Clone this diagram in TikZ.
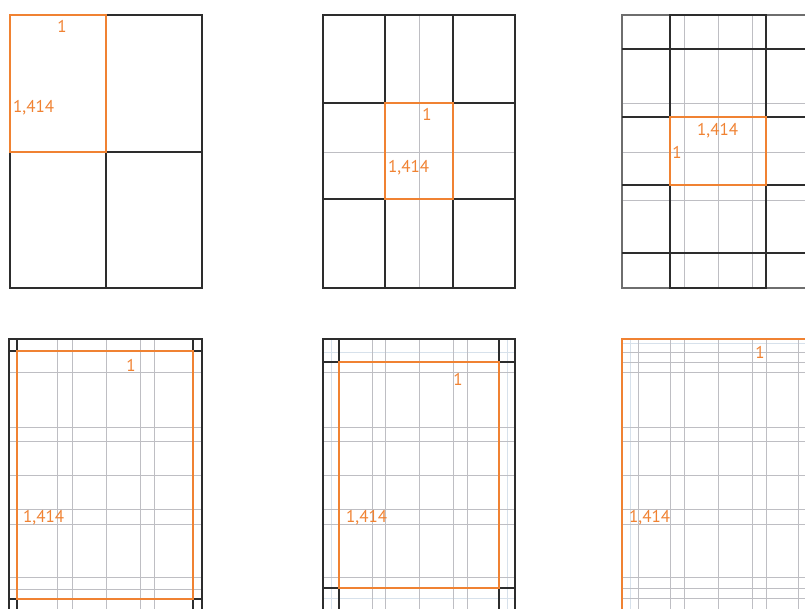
\documentclass[tikz,border=0pt]{standalone}
\usepackage{fontspec}
\setmainfont{PT Sans}
\definecolor{MyOrange}{RGB}{240,130,50}
\definecolor{MyDark}{RGB}{45,45,45}
\definecolor{MyMid}{RGB}{110,110,110}
\definecolor{MyGrey}{RGB}{190,190,195}
\definecolor{MyLight}{RGB}{215,225,235}

\begin{document}
\begin{tikzpicture}[x=1pt, y=-1pt,
  sheet/.style={draw=MyDark, line width=1.8pt},
  format/.style={draw=MyOrange, line width=1.8pt},
  gridline/.style={draw=MyGrey, line width=0.8pt},
  faintline/.style={draw=MyLight, line width=0.8pt},
  size/.style={text=MyOrange, font=\fontsize{17}{17}\selectfont, inner sep=0pt}]
\useasboundingbox (0,0) rectangle (805,608);
\fill[white] (0,0) rectangle (805,608);
\clip (0,0) rectangle (805,608);

\draw[sheet] (10,15) rectangle (202,288);
\draw[sheet] (106,15) -- (106,288) (10,152) -- (202,152);
\draw[format] (10,15) rectangle (106,152);
\node[size, anchor=base] (w1) at (62,32) {1};
\node[size, anchor=base west] (h1) at (13,112) {1,414};

\draw[gridline] (419,15) -- (419,288) (323,152) -- (515,152);
\draw[sheet] (323,15) rectangle (515,288);
\foreach \x in {385,453} \draw[sheet] (\x,15) -- (\x,288);
\foreach \y in {103,199} \draw[sheet] (323,\y) -- (515,\y);
\draw[format] (385,103) rectangle (453,199);
\node[size, anchor=base] (w2) at (427,120) {1};
\node[size, anchor=base west] (h2) at (388,172) {1,414};

\foreach \x in {684,718,752} \draw[gridline] (\x,15) -- (\x,288);
\foreach \y in {103,152,200} \draw[gridline] (622,\y) -- (814,\y);
\draw[draw=MyMid, line width=1.2pt] (622,15) rectangle (814,288);
\draw[sheet] (670,15) rectangle (766,288);
\foreach \y in {49,117,185,253} \draw[sheet] (622,\y) -- (814,\y);
\draw[format] (670,117) rectangle (766,185);
\node[size, anchor=base west] (w3) at (697,135) {1,414};
\node[size, anchor=base] (h3) at (677,158) {1};

\foreach \x in {57,72,106,140,154} \draw[gridline] (\x,339) -- (\x,612);
\foreach \y in {372,427,441,475,509,524,577,589} \draw[gridline] (9,\y) -- (202,\y);
\draw[sheet] (9,339) rectangle (202,612);
\draw[sheet] (17,339) -- (17,351) -- (9,351) (193,339) -- (193,351) -- (202,351)
  (9,599) -- (17,599) -- (17,612) (202,599) -- (193,599) -- (193,612);
\draw[format] (17,351) rectangle (193,599);
\node[size, anchor=base] (w4) at (131,371) {1};
\node[size, anchor=base west] (h4) at (23,522) {1,414};

\foreach \x in {331,507} \draw[faintline] (\x,339) -- (\x,612);
\foreach \y in {352,598} \draw[faintline] (323,\y) -- (515,\y);
\foreach \x in {372,385,419,453,467} \draw[gridline] (\x,339) -- (\x,612);
\foreach \y in {372,427,441,475,509,524,577} \draw[gridline] (323,\y) -- (515,\y);
\draw[sheet] (323,339) rectangle (515,612);
\draw[sheet] (339,339) -- (339,362) -- (323,362) (499,339) -- (499,362) -- (515,362)
  (323,588) -- (339,588) -- (339,612) (515,588) -- (499,588) -- (499,612);
\draw[format] (339,362) rectangle (499,588);
\node[size, anchor=base] (w5) at (458,385) {1};
\node[size, anchor=base west] (h5) at (346,522) {1,414};

\draw[faintline] (630,339) -- (630,612) (622,343) -- (814,343);
\foreach \x in {638,670,684,718,752,766,798} \draw[gridline] (\x,339) -- (\x,612);
\foreach \y in {352,362,372,427,441,475,509,524,577,588,598} \draw[gridline] (622,\y) -- (814,\y);
\draw[format] (622,339) rectangle (814,612);
\node[size, anchor=base] (w6) at (760,358) {1};
\node[size, anchor=base west] (h6) at (629,522) {1,414};
\end{tikzpicture}
\end{document}
